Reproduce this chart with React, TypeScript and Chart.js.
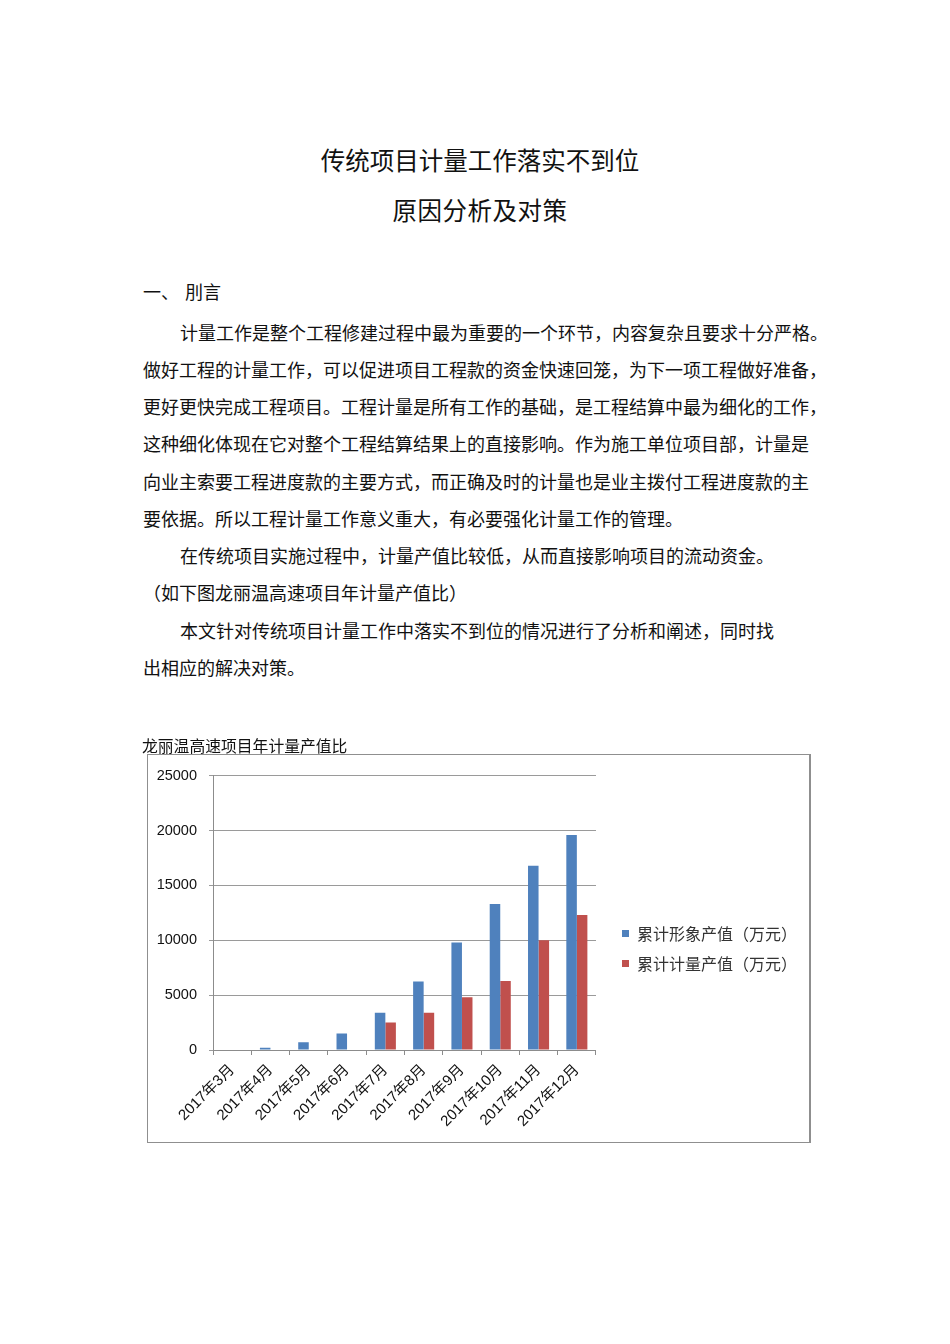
import React, { useEffect, useRef } from "react";
import { Chart, registerables } from "chart.js";

Chart.register(...registerables);

const categories = [
  "2017年3月",
  "2017年4月",
  "2017年5月",
  "2017年6月",
  "2017年7月",
  "2017年8月",
  "2017年9月",
  "2017年10月",
  "2017年11月",
  "2017年12月",
];
const imageValues = [0, 200, 700, 1500, 3400, 6250, 9800, 13300, 16800, 19600];
const meteredValues = [0, 0, 0, 0, 2500, 3400, 4800, 6300, 10000, 12300];
const seriesNames = ["累计形象产值（万元）", "累计计量产值（万元）"];
const yTickValues = [0, 5000, 10000, 15000, 20000, 25000];
const chartTitle = "龙丽温高速项目年计量产值比";

const titleLines = ["传统项目计量工作落实不到位", "原因分析及对策"];
const headingNumber = "一、";
const headingText = "刖言";
const bodyLines = [
  "计量工作是整个工程修建过程中最为重要的一个环节，内容复杂且要求十分严格。",
  "做好工程的计量工作，可以促进项目工程款的资金快速回笼，为下一项工程做好准备，",
  "更好更快完成工程项目。工程计量是所有工作的基础，是工程结算中最为细化的工作，",
  "这种细化体现在它对整个工程结算结果上的直接影响。作为施工单位项目部，计量是",
  "向业主索要工程进度款的主要方式，而正确及时的计量也是业主拨付工程进度款的主",
  "要依据。所以工程计量工作意义重大，有必要强化计量工作的管理。",
  "在传统项目实施过程中，计量产值比较低，从而直接影响项目的流动资金。",
  "（如下图龙丽温高速项目年计量产值比）",
  "本文针对传统项目计量工作中落实不到位的情况进行了分析和阐述，同时找",
  "出相应的解决对策。",
];
const bodyIndent = [true, false, false, false, false, false, true, false, true, false];

const CJK = '"Noto Sans CJK SC", "Noto Sans", sans-serif';
const NUM = '"Liberation Sans", "Noto Sans CJK SC", sans-serif';

function BarChart() {
  const ref = useRef<HTMLCanvasElement | null>(null);
  useEffect(() => {
    if (!ref.current) return;
    const chart = new Chart(ref.current, {
      type: "bar",
      data: {
        labels: categories,
        datasets: [
          {
            label: seriesNames[0],
            data: imageValues,
            backgroundColor: "#4F81BD",
            categoryPercentage: 0.55,
            barPercentage: 1.0,
          },
          {
            label: seriesNames[1],
            data: meteredValues,
            backgroundColor: "#C0504D",
            categoryPercentage: 0.55,
            barPercentage: 1.0,
          },
        ],
      },
      options: {
        animation: false,
        responsive: false,
        devicePixelRatio: 1,
        layout: { padding: { top: 0, left: 0, right: 2, bottom: 0 } },
        plugins: {
          title: { display: false },
          tooltip: { enabled: false },
          legend: {
            display: true,
            position: "right",
            align: "center",
            maxWidth: 240,
            labels: {
              boxWidth: 7,
              boxHeight: 7,
              padding: 14,
              color: "#333",
              font: { family: CJK, size: 16 },
            },
          },
        },
        scales: {
          x: {
            grid: {
              display: true,
              drawOnChartArea: false,
              drawTicks: true,
              tickLength: 5,
              color: "#8c8c8c",
              offset: true,
            },
            border: { display: true, color: "#8c8c8c", width: 1 },
            ticks: {
              autoSkip: false,
              minRotation: 45,
              maxRotation: 45,
              padding: 6,
              color: "#111",
              font: { family: NUM, size: 15 },
            },
            afterFit: (s: any) => {
              s.height = 92;
            },
          },
          topGap: {
            type: "category",
            position: "top",
            display: true,
            grid: { display: false, drawTicks: false },
            border: { display: false },
            ticks: { display: false },
            afterFit: (s: any) => {
              s.height = 18;
            },
          },
          y: {
            min: 0,
            max: 25000,
            afterBuildTicks: (s: any) => {
              s.ticks = yTickValues.map((v) => ({ value: v }));
            },
            grid: {
              color: "#9a9a9a",
              tickLength: 4,
              drawTicks: true,
            },
            border: { display: true, color: "#8c8c8c", width: 1 },
            ticks: {
              padding: 12,
              color: "#111",
              font: { family: NUM, size: 14.5 },
              callback: (v: any) => String(v),
            },
            afterFit: (s: any) => {
              s.width = 65;
            },
          },
          gap: {
            type: "linear",
            position: "right",
            display: true,
            grid: { display: false, drawTicks: false },
            border: { display: false },
            ticks: { display: false },
            afterFit: (s: any) => {
              s.width = 12;
            },
          },
        },
      },
    } as any);
    return () => chart.destroy();
  }, []);
  return <canvas ref={ref} width={661} height={387} style={{ display: "block", width: 661, height: 387 }} />;
}

export default function App() {
  const off = 8;
  const lineTops = [332, 369, 406, 443, 481, 518, 555, 592, 630, 667];
  return (
    <div style={{ position: "relative", width: 934, height: 1328, fontFamily: CJK, color: "#111" }}>
      {titleLines.map((t, i) => (
        <div
          key={t}
          style={{
            position: "absolute",
            left: 0,
            width: 960 - off * 2,
            textAlign: "center",
            top: (i === 0 ? 160 : 210) - 18 - off,
            height: 36,
            lineHeight: "36px",
            fontSize: 24.5,
            letterSpacing: i === 1 ? 0.5 : 0,
            whiteSpace: "nowrap",
          }}
        >
          {t}
        </div>
      ))}
      <div
        style={{
          position: "absolute",
          left: 143 - off,
          top: 291 - 15 - off,
          height: 30,
          lineHeight: "30px",
          fontSize: 18,
          whiteSpace: "nowrap",
        }}
      >
        {headingNumber}
        <span style={{ marginLeft: 6 }}>{headingText}</span>
      </div>
      {bodyLines.map((t, i) => (
        <div
          key={i}
          style={{
            position: "absolute",
            left: 143 - off + (bodyIndent[i] ? 37 : 0),
            top: lineTops[i] - 15 - off,
            height: 30,
            lineHeight: "30px",
            fontSize: 18,
            whiteSpace: "nowrap",
          }}
        >
          {t}
        </div>
      ))}
      <div
        style={{
          position: "absolute",
          left: 147 - off,
          top: 754 - off,
          width: 664,
          height: 389,
          boxSizing: "border-box",
          border: "1px solid #8f8f8f",
          borderRightWidth: 2,
          background: "#fff",
        }}
      >
        <BarChart />
      </div>
      <div
        style={{
          position: "absolute",
          left: 142 - off,
          top: 746 - 12 - off,
          height: 24,
          lineHeight: "24px",
          fontSize: 15.8,
          whiteSpace: "nowrap",
          color: "#111",
        }}
      >
        {chartTitle}
      </div>
    </div>
  );
}
